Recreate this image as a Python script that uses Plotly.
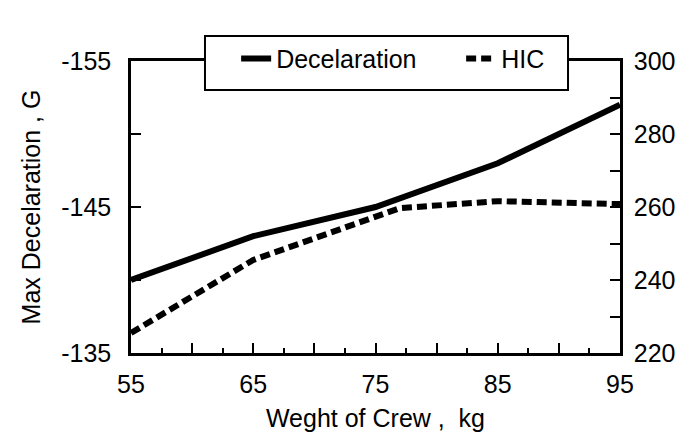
import plotly.graph_objects as go

weight = [55, 65, 75, 85, 95]
decel = [-140, -143, -145, -148, -152]
hic_weight = [55, 65, 77, 85, 95]
hic = [225.5, 245.5, 259.7, 261.6, 260.8]

x_ticks = [55, 60, 65, 70, 75, 80, 85, 90, 95]
x_labels = ["55", "", "65", "", "75", "", "85", "", "95"]
y_ticks = [-155, -150, -145, -140, -135]
y_labels = ["-155", "", "-145", "", "-135"]
y2_ticks = [220, 230, 240, 250, 260, 270, 280, 290, 300]
y2_labels = ["220", "", "240", "", "260", "", "280", "", "300"]

FONT = "Liberation Sans"
FS = 25

fig = go.Figure()
fig.add_trace(go.Scatter(x=weight, y=decel, mode="lines", name="Decelaration",
                         line=dict(color="black", width=6), yaxis="y"))
fig.add_trace(go.Scatter(x=hic_weight, y=hic, mode="lines", name="HIC",
                         line=dict(color="black", width=6, dash="10px,5px"), yaxis="y2"))

axis_common = dict(showline=True, linecolor="black", linewidth=2.5, showgrid=False,
                   zeroline=False, ticks="inside", tickcolor="black", tickwidth=1.5,
                   automargin=False,
                   tickfont=dict(family=FONT, size=FS, color="black"))

fig.update_layout(
    width=684, height=434,
    margin=dict(l=131, r=64, t=61, b=81, autoexpand=False),
    plot_bgcolor="white", paper_bgcolor="white",
    font=dict(family=FONT, size=FS, color="black"),
    showlegend=True,
    xaxis=dict(range=[55, 95], tickmode="array", tickvals=x_ticks, ticktext=x_labels,
               ticklen=10, mirror=True, ticklabelstandoff=7,
               minor=dict(tickmode="linear", tick0=55, dtick=2.5, ticks="inside",
                          ticklen=5, tickcolor="black", tickwidth=1.5),
               title=dict(text="Weght of Crew ,  kg", font=dict(family=FONT, size=FS), standoff=13),
               **axis_common),
    yaxis=dict(range=[-135, -155], tickmode="array", tickvals=y_ticks, ticktext=y_labels,
               ticklen=10, ticklabelstandoff=12,
               title=dict(text="Max Decelaration , G", font=dict(family=FONT, size=FS), standoff=14),
               **axis_common),
    yaxis2=dict(range=[220, 300], overlaying="y", side="right", anchor="x",
                tickmode="array", tickvals=y2_ticks, ticktext=y2_labels,
                ticklen=10, ticklabelstandoff=6, **axis_common),
    legend=dict(orientation="h", x=0.215, xanchor="left", y=1.008, yanchor="middle",
                bgcolor="rgba(0,0,0,0)", borderwidth=0, entrywidth=180,
                font=dict(family=FONT, size=FS, color="black")),
    shapes=[dict(type="rect", xref="paper", yref="paper", x0=0.1513, x1=0.8937,
                 y0=0.9007, y1=1.0856, fillcolor="white",
                 line=dict(color="black", width=2), layer="above")],
)

fig.write_html("out.html")
